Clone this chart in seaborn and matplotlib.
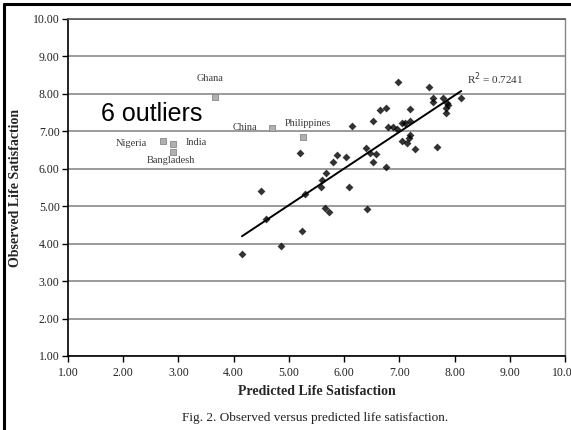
import numpy as np
import pandas as pd
import seaborn as sns
import matplotlib.pyplot as plt
from matplotlib.lines import Line2D

# Observed vs predicted life satisfaction (regular countries)
pred = [4.15, 4.59, 4.50, 4.85, 5.24, 5.20, 5.29, 5.58, 5.60, 5.67,
        5.66, 5.73, 5.80, 5.87, 6.04, 6.09, 6.14, 6.42, 6.40, 6.47,
        6.58, 6.52, 6.52, 6.65, 6.76, 6.76, 6.80, 6.89, 6.95, 6.97,
        7.05, 7.10, 7.20, 7.05, 7.14, 7.17, 7.19, 7.20, 7.29, 7.54,
        7.61, 7.61, 7.68, 7.79, 7.87, 7.89, 7.85, 7.85, 8.12]
obs = [3.73, 4.65, 5.40, 3.95, 4.33, 6.42, 5.32, 5.51, 5.70, 5.88,
       4.95, 4.85, 6.18, 6.36, 6.31, 5.51, 7.14, 4.92, 6.55, 6.42,
       6.40, 6.18, 7.27, 7.57, 7.62, 6.04, 7.11, 7.12, 7.06, 8.32,
       7.22, 7.23, 7.28, 6.74, 6.70, 6.82, 6.90, 7.59, 6.52, 8.18,
       7.90, 7.78, 6.58, 7.89, 7.75, 7.70, 7.63, 7.49, 7.89]

# Outliers
out_names = ["Ghana", "China", "Philippines", "Nigeria", "India", "Bangladesh"]
out_pred = [3.66, 4.70, 5.26, 2.72, 2.90, 2.90]
out_obs = [7.91, 7.09, 6.85, 6.74, 6.65, 6.45]

tick_vals = [1, 2, 3, 4, 5, 6, 7, 8, 9, 10]
tick_labels = ["1.00", "2.00", "3.00", "4.00", "5.00", "6.00", "7.00", "8.00", "9.00", "10.00"]
r2_text = "R$^2$ = 0.7241"

sns.set_theme(style="white")
plt.rcParams['font.family'] = ['Liberation Serif', 'DejaVu Serif']

fig = plt.figure(figsize=(5.71, 4.30), dpi=100)
ax = fig.add_axes([68/571, 1-356/430, (565-68)/571, (356-19)/430])

df = pd.DataFrame({"pred": pred, "obs": obs})
dfo = pd.DataFrame({"pred": out_pred, "obs": out_obs, "name": out_names})

sns.regplot(data=df, x="pred", y="obs", ax=ax, ci=None, marker="D",
            scatter_kws={"s": 16, "color": "black", "linewidths": 0, "zorder": 4},
            line_kws={"color": "black", "lw": 1.4, "zorder": 3})
sns.scatterplot(data=dfo, x="pred", y="obs", ax=ax, marker="s", s=18,
                color="#b0b0b0", edgecolor="#888888", linewidth=0.6, zorder=4)

# country labels
lab_pos = {"Ghana": (3.57, 8.42),
           "China": (4.21, 7.10),
           "Philippines": (5.35, 7.20),
           "Nigeria": (2.14, 6.68),
           "India": (3.32, 6.70),
           "Bangladesh": (2.87, 6.23)}
for n in out_names:
    x, y = lab_pos[n]
    ax.text(x, y, n, fontsize=7.5, color="#3a3a3a", ha="center", va="center", zorder=5)

ax.text(8.22, 8.40, r2_text, fontsize=8, color="#333333", ha="left", va="center")
ax.text(2.52, 7.27, "6 outliers", fontsize=18, family=["Liberation Sans", "DejaVu Sans"],
        color="black", ha="center", va="baseline", zorder=6)

ax.set_xlim(1, 10)
ax.set_ylim(1, 10)
ax.set_xticks(tick_vals)
ax.set_xticklabels(tick_labels)
ax.set_yticks(tick_vals)
ax.set_yticklabels(tick_labels)
ax.tick_params(axis="both", direction="out", length=4, width=1, color="black",
               labelsize=8.5, pad=2, labelcolor="#222222")
ax.tick_params(axis="x", pad=4)
ax.xaxis.set_ticks_position("bottom")
ax.yaxis.set_ticks_position("left")

ax.yaxis.grid(True, color="#808080", lw=1.1)
ax.xaxis.grid(False)
ax.set_axisbelow(True)
for s in ["left", "bottom"]:
    ax.spines[s].set_color("black")
    ax.spines[s].set_linewidth(1.2)
ax.spines["top"].set_color("#555555")
ax.spines["top"].set_linewidth(1.2)
ax.spines["right"].set_color("#888888")
ax.spines["right"].set_linewidth(1.0)

ax.set_xlabel("Predicted Life Satisfaction", fontsize=10, fontweight="bold", labelpad=4)
ax.set_ylabel("Observed Life Satisfaction", fontsize=10, fontweight="bold", labelpad=8)

fig.text(315/571, 1-418/430, "Fig. 2. Observed versus predicted life satisfaction.",
         fontsize=9.5, ha="center", va="center", color="#222222")

# outer frame (left and top)
fig.add_artist(Line2D([4/571, 4/571], [0, 1-4/430], transform=fig.transFigure, color="black", lw=2.2))
fig.add_artist(Line2D([4/571, 1], [1-4/430, 1-4/430], transform=fig.transFigure, color="black", lw=2.2))

fig.savefig("out.png", dpi=100)
